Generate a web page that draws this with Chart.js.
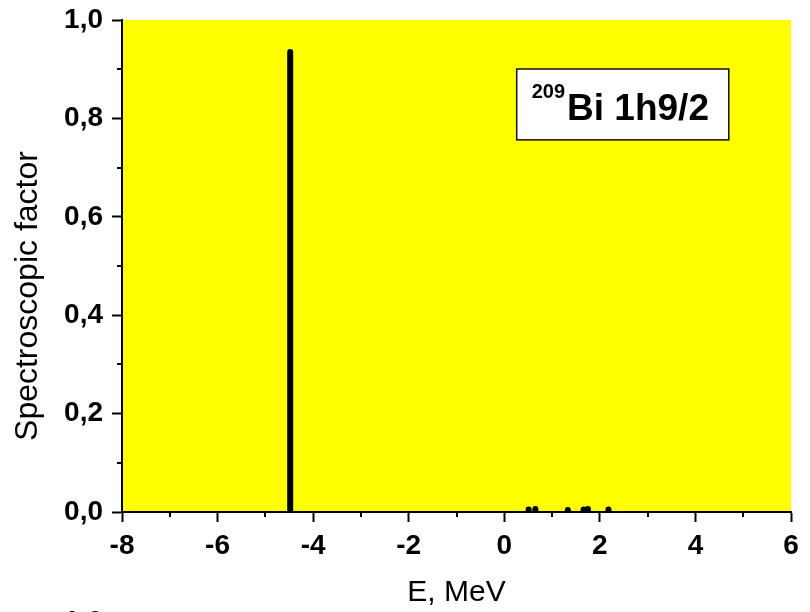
<!DOCTYPE html>
<html>
<head>
<meta charset="utf-8">
<script src="https://cdn.jsdelivr.net/npm/chart.js@4.4.1/dist/chart.umd.min.js"></script>
<style>
  html, body { margin: 0; padding: 0; background: #fff; }
  #wrap { width: 810px; height: 612px; position: relative; }
</style>
</head>
<body>
<div id="wrap"><canvas id="c" width="810" height="612"></canvas></div>
<script>
// Spectroscopic strength of the 1h9/2 proton state in 209Bi versus energy
const energies = [-4.48, 0.51, 0.65, 1.33, 1.66, 1.75, 2.18];
const factors  = [0.935, 0.005, 0.006, 0.004, 0.005, 0.006, 0.005];

const xMajorTicks = [-8, -6, -4, -2, 0, 2, 4, 6];
const xMinorTicks = [-7, -5, -3, -1, 1, 3, 5];
const yMajorTicks = [0, 0.2, 0.4, 0.6, 0.8, 1.0];
const yMinorTicks = [0.1, 0.3, 0.5, 0.7, 0.9];

const xTitle = 'E, MeV';
const yTitle = 'Spectroscopic factor';
const isotopeMass = '209';
const stateLabel = 'Bi 1h9/2';
const nextPanelTopLabel = '1,0';

const FONT = '"Liberation Sans", Arial, Helvetica, sans-serif';

// each level is a vertical stick from zero up to its factor; null breaks the line
const stickPoints = [];
energies.forEach((e, i) => {
  stickPoints.push({ x: e, y: 0 });
  stickPoints.push({ x: e, y: factors[i] });
  stickPoints.push({ x: e, y: null });
});

const fmtComma = v => Number(v).toFixed(1).replace('.', ',');

const decorations = {
  id: 'decorations',
  beforeDraw(chart) {
    const { ctx, chartArea: a } = chart;
    ctx.save();
    ctx.fillStyle = '#ffff00';
    ctx.fillRect(a.left, a.top, a.right - a.left, a.bottom - a.top);
    ctx.restore();
  },
  afterDraw(chart) {
    const { ctx, chartArea: a } = chart;
    const xs = chart.scales.x, ys = chart.scales.y;
    ctx.save();

    // minor ticks
    ctx.strokeStyle = '#000';
    ctx.lineWidth = 2;
    ctx.beginPath();
    xMinorTicks.forEach(v => {
      const px = Math.round(xs.getPixelForValue(v));
      ctx.moveTo(px, a.bottom);
      ctx.lineTo(px, a.bottom + 5);
    });
    yMinorTicks.forEach(v => {
      const py = Math.round(ys.getPixelForValue(v));
      ctx.moveTo(a.left, py);
      ctx.lineTo(a.left - 5, py);
    });
    ctx.stroke();

    // state label box
    const w = a.right - a.left, h = a.bottom - a.top;
    const bx = a.left + 0.590 * w, by = a.top + 0.0996 * h;
    const bw = 0.317 * w, bh = 0.144 * h;
    ctx.fillStyle = '#fff';
    ctx.fillRect(bx, by, bw, bh);
    ctx.strokeStyle = '#111';
    ctx.lineWidth = 1.5;
    ctx.strokeRect(bx, by, bw, bh);
    ctx.fillStyle = '#000';
    ctx.textAlign = 'left';
    ctx.textBaseline = 'alphabetic';
    ctx.font = 'bold 20px ' + FONT;
    ctx.fillText(isotopeMass, bx + 15, by + 29);
    const supW = ctx.measureText(isotopeMass).width;
    ctx.font = 'bold 37px ' + FONT;
    ctx.fillText(stateLabel, bx + 15 + supW + 2, by + 51);

    // y-axis title
    ctx.save();
    ctx.translate(28, 296);
    ctx.rotate(-Math.PI / 2);
    ctx.textAlign = 'center';
    ctx.textBaseline = 'middle';
    ctx.font = '32px ' + FONT;
    ctx.fillText(yTitle, 0, 0);
    ctx.restore();

    // top label of the panel below
    ctx.font = 'bold 28px ' + FONT;
    ctx.textAlign = 'right';
    ctx.textBaseline = 'alphabetic';
    ctx.fillText(nextPanelTopLabel, 103, 630);

    ctx.restore();
  }
};

new Chart(document.getElementById('c'), {
  type: 'line',
  data: {
    datasets: [{
      data: stickPoints,
      borderColor: '#000',
      borderWidth: 6,
      borderCapStyle: 'round',
      borderJoinStyle: 'round',
      pointRadius: 0,
      pointHoverRadius: 0,
      spanGaps: false,
      tension: 0,
      fill: false
    }]
  },
  options: {
    responsive: false,
    animation: false,
    devicePixelRatio: 1,
    layout: { padding: { top: 0, right: 19, bottom: 0, left: 0 } },
    plugins: { legend: { display: false }, tooltip: { enabled: false } },
    scales: {
      x: {
        type: 'linear',
        min: -8, max: 6,
        afterBuildTicks: s => { s.ticks = xMajorTicks.map(v => ({ value: v })); },
        afterFit: s => { s.height = 100; },
        ticks: {
          color: '#000',
          padding: 7,
          maxRotation: 0,
          autoSkip: false,
          font: { family: FONT, size: 28, weight: 'bold' },
          callback: v => String(v)
        },
        grid: { display: true, drawOnChartArea: false, drawTicks: true, tickLength: 10, tickWidth: 2, tickColor: '#000' },
        border: { display: true, color: '#000', width: 2 },
        title: {
          display: true,
          text: xTitle,
          color: '#000',
          font: { family: FONT, size: 30, weight: 'normal' },
          padding: { top: 0, bottom: 1 }
        }
      },
      y: {
        type: 'linear',
        min: 0, max: 1,
        afterBuildTicks: s => { s.ticks = yMajorTicks.map(v => ({ value: v })); },
        afterFit: s => { s.width = 122; s.paddingTop = 20; s.paddingBottom = 0; },
        ticks: {
          color: '#000',
          padding: 9,
          autoSkip: false,
          font: { family: FONT, size: 28, weight: 'bold' },
          callback: v => fmtComma(v)
        },
        grid: { display: true, drawOnChartArea: false, drawTicks: true, tickLength: 10, tickWidth: 2, tickColor: '#000' },
        border: { display: true, color: '#000', width: 2 }
      }
    }
  },
  plugins: [decorations]
});
</script>
</body>
</html>
